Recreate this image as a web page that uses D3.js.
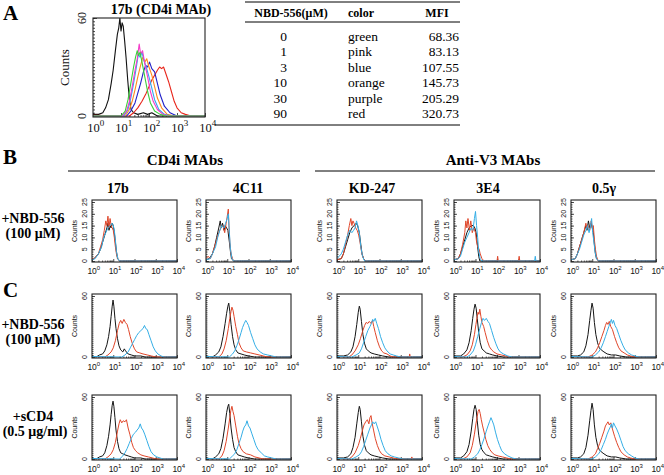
<!DOCTYPE html>
<html>
<head>
<meta charset="utf-8">
<script src="https://cdn.jsdelivr.net/npm/d3@7"></script>
<style>
  body { margin: 0; background: #fff; }
</style>
</head>
<body>
<div id="fig"></div>
<script>
// ---- data: histogram points are [log10 fluorescence, counts] ----

// panel A, 17b with increasing NBD-556
var aBlack = [[0,1],[0.2,1],[0.35,2],[0.45,5],[0.55,10],[0.65,20],[0.72,28],[0.8,40],[0.87,50],[0.92,54],[0.96,60],[1.0,52],[1.04,57],[1.08,55],[1.13,46],[1.18,36],[1.24,22],[1.3,10],[1.36,4],[1.45,2],[1.6,1],[1.8,2],[1.95,1],[2.1,2],[2.3,0],[4,0]];
var aGreen = [[0,0],[1.0,0],[1.15,3],[1.25,10],[1.35,20],[1.45,30],[1.52,36],[1.58,40],[1.63,37],[1.68,39],[1.75,33],[1.85,24],[1.95,15],[2.05,8],[2.2,3],[2.4,1],[2.6,0],[4,0]];
var aPink = [[0,0],[1.05,0],[1.2,3],[1.3,9],[1.4,18],[1.5,28],[1.58,35],[1.65,44],[1.7,38],[1.77,40],[1.85,32],[1.95,24],[2.05,15],[2.15,9],[2.3,4],[2.5,1],[2.7,0],[4,0]];
var aBlue = [[0,0],[1.1,0],[1.25,4],[1.35,11],[1.45,20],[1.55,30],[1.62,38],[1.68,36],[1.75,39],[1.82,34],[1.9,30],[2.0,24],[2.1,17],[2.2,10],[2.35,4],[2.55,1],[2.8,0],[4,0]];
var aOrange = [[0,0],[1.15,0],[1.3,4],[1.4,9],[1.5,16],[1.6,24],[1.7,31],[1.78,36],[1.85,33],[1.92,35],[2.0,30],[2.1,25],[2.2,18],[2.3,11],[2.45,5],[2.65,1],[2.9,0],[4,0]];
var aPurple = [[0,0],[1.2,0],[1.35,3],[1.5,8],[1.6,14],[1.7,20],[1.8,27],[1.88,31],[1.95,30],[2.02,33],[2.1,29],[2.2,27],[2.3,20],[2.4,13],[2.55,6],[2.75,2],[3.0,0],[4,0]];
var aRed = [[0,0.5],[1.3,0],[1.45,2],[1.6,5],[1.75,9],[1.9,14],[2.0,18],[2.1,22],[2.2,25],[2.3,28],[2.38,30],[2.45,29],[2.52,30],[2.6,26],[2.7,21],[2.8,15],[2.9,9],[3.0,5],[3.15,2],[3.3,1],[3.5,0],[4,0]];

// table of panel A
var tableConc = ["0", "1", "3", "10", "30", "90"];
var tableColor = ["green", "pink", "blue", "orange", "purple", "red"];
var tableMFI = ["68.36", "83.13", "107.55", "145.73", "205.29", "320.73"];

// panels B and C
var mabNames = ["17b", "4C11", "KD-247", "3E4", "0.5\u03b3"];

var bBlack = [
  [[0,0.5],[0.1,1],[0.2,2],[0.3,3],[0.4,5],[0.5,8],[0.6,11],[0.7,14],[0.75,16],[0.8,13],[0.85,15],[0.9,14],[0.95,16],[1.0,15],[1.05,12],[1.1,8],[1.15,4],[1.2,1],[1.3,0],[4,0]],
  [[0,0.5],[0.15,1],[0.3,3],[0.4,6],[0.5,10],[0.6,14],[0.67,17],[0.72,14],[0.78,16],[0.85,13],[0.9,15],[0.97,14],[1.03,13],[1.1,8],[1.15,4],[1.2,1],[1.3,0],[4,0]],
  [[0,0.5],[0.2,1],[0.3,3],[0.4,6],[0.5,9],[0.6,12],[0.7,14],[0.8,15],[0.9,16],[0.97,15],[1.05,12],[1.12,7],[1.18,3],[1.25,1],[1.35,0],[4,0]],
  [[0,0.5],[0.2,1],[0.3,3],[0.4,6],[0.5,9],[0.6,12],[0.7,14],[0.8,15],[0.9,15],[0.97,14],[1.03,12],[1.1,6],[1.15,2],[1.2,0],[4,0]],
  [[0,0.5],[0.2,1],[0.3,3],[0.4,6],[0.5,9],[0.6,12],[0.7,15],[0.75,13],[0.82,17],[0.88,14],[0.95,16],[1.0,14],[1.05,12],[1.1,7],[1.15,3],[1.2,1],[1.3,0],[4,0]]
];
var bRed = [
  [[0,1],[0.1,1],[0.2,2],[0.3,3],[0.4,6],[0.5,9],[0.58,13],[0.65,17],[0.7,15],[0.75,19],[0.8,14],[0.85,18],[0.9,15],[0.95,14],[1.0,13],[1.05,10],[1.1,6],[1.15,3],[1.22,1],[1.3,0],[4,0]],
  [[0,1],[0.1,2],[0.2,1],[0.3,3],[0.4,6],[0.5,9],[0.6,12],[0.7,14],[0.8,15],[0.88,12],[0.95,16],[1.0,19],[1.05,22],[1.08,15],[1.12,8],[1.18,3],[1.25,1],[1.3,0],[4,0]],
  [[0,0.5],[0.2,1],[0.3,3],[0.4,7],[0.5,11],[0.58,15],[0.65,18],[0.7,15],[0.75,17],[0.8,16],[0.88,14],[0.95,13],[1.02,11],[1.1,7],[1.17,3],[1.25,1],[1.35,0],[4,0]],
  [[0,0.5],[0.2,1],[0.3,3],[0.4,7],[0.5,12],[0.55,17],[0.6,14],[0.65,18],[0.72,13],[0.78,17],[0.85,12],[0.92,14],[1.0,12],[1.05,8],[1.1,6],[1.17,5],[1.22,3],[1.3,1],[1.4,0],[2.0,0],[2.03,2],[2.06,0],[3.0,0],[3.03,2],[3.06,0],[4,0]],
  [[0,0.5],[0.2,1],[0.3,3],[0.4,6],[0.5,9],[0.6,12],[0.7,16],[0.75,14],[0.8,15],[0.88,13],[0.95,17],[1.0,14],[1.05,15],[1.1,9],[1.15,5],[1.2,2],[1.28,0],[4,0]]
];
var bBlue = [
  [[0,0.5],[0.15,1],[0.3,3],[0.45,6],[0.55,10],[0.65,12],[0.75,14],[0.85,15],[0.95,16],[1.0,15],[1.05,13],[1.1,9],[1.15,4],[1.22,1],[1.3,0],[4,0]],
  [[0,0.5],[0.2,1],[0.3,3],[0.45,6],[0.55,10],[0.65,13],[0.75,15],[0.85,14],[0.92,16],[1.0,18],[1.05,20],[1.1,12],[1.15,5],[1.22,1],[1.3,0],[4,0]],
  [[0,1],[0.1,2],[0.2,3],[0.3,5],[0.4,8],[0.5,11],[0.6,13],[0.7,12],[0.78,13],[0.85,14],[0.92,17],[0.98,15],[1.05,12],[1.12,6],[1.2,2],[1.3,0],[4,0]],
  [[0,0.5],[0.2,1],[0.3,2],[0.4,5],[0.5,8],[0.6,10],[0.7,12],[0.8,14],[0.88,13],[0.95,18],[1.0,21],[1.05,15],[1.1,10],[1.15,4],[1.22,1],[1.3,0],[3.75,0],[3.78,2],[3.81,0],[4,0]],
  [[0,0.5],[0.2,1],[0.3,3],[0.4,5],[0.5,8],[0.6,11],[0.7,13],[0.78,15],[0.85,12],[0.9,14],[0.97,18],[1.02,12],[1.08,8],[1.13,4],[1.2,1],[1.3,0],[4,0]]
];

// C, +NBD-556 row
var c1Black = [
  [[0,1],[0.2,0],[0.35,2],[0.5,3],[0.6,6],[0.7,12],[0.78,20],[0.85,30],[0.9,40],[0.95,50],[0.99,56],[1.03,50],[1.08,38],[1.13,28],[1.2,18],[1.27,11],[1.35,7],[1.45,5],[1.52,8],[1.58,6],[1.7,3],[1.85,2],[2.0,1],[2.3,1],[2.5,0],[4,0]],
  [[0,1],[0.3,0],[0.45,2],[0.6,5],[0.7,10],[0.8,20],[0.9,33],[0.97,43],[1.03,50],[1.07,53],[1.12,45],[1.18,32],[1.25,20],[1.32,12],[1.4,7],[1.5,4],[1.65,3],[1.8,2],[2.0,1],[2.3,0],[4,0]],
  [[0,1],[0.3,1],[0.5,2],[0.65,5],[0.75,10],[0.85,20],[0.93,32],[1.0,44],[1.05,50],[1.09,47],[1.15,35],[1.22,22],[1.3,13],[1.38,8],[1.47,6],[1.6,4],[1.75,3],[1.95,2],[2.15,1],[2.45,0],[4,0]],
  [[0,1],[0.3,1],[0.45,3],[0.6,7],[0.7,14],[0.8,26],[0.87,38],[0.93,47],[0.98,52],[1.03,48],[1.08,38],[1.15,24],[1.22,14],[1.3,8],[1.4,6],[1.5,4],[1.65,3],[1.8,2],[2.0,1],[2.3,0],[4,0]],
  [[0,1],[0.3,1],[0.45,2],[0.6,5],[0.7,11],[0.8,22],[0.88,36],[0.94,46],[0.99,53],[1.04,48],[1.1,34],[1.17,22],[1.25,14],[1.33,9],[1.42,7],[1.55,5],[1.7,3],[1.9,2],[2.1,2],[2.3,1],[2.6,0],[4,0]]
];
var c1Red = [
  [[0,0.5],[0.6,0],[0.75,2],[0.9,5],[1.0,9],[1.1,16],[1.2,26],[1.28,33],[1.35,36],[1.42,33],[1.5,37],[1.57,34],[1.65,32],[1.72,27],[1.8,20],[1.9,13],[2.0,8],[2.1,5],[2.25,4],[2.4,3],[2.6,2],[2.8,1],[3.0,0],[4,0]],
  [[0,0.5],[0.6,0],[0.75,3],[0.85,8],[0.95,16],[1.05,28],[1.12,38],[1.18,45],[1.22,49],[1.27,46],[1.32,40],[1.4,30],[1.48,22],[1.55,14],[1.65,9],[1.75,6],[1.9,5],[2.1,4],[2.3,3],[2.5,2],[2.7,1],[2.9,0],[4,0]],
  [[0,0.5],[0.55,0],[0.7,2],[0.85,6],[1.0,12],[1.1,18],[1.2,25],[1.3,31],[1.37,34],[1.45,33],[1.52,35],[1.6,33],[1.67,36],[1.73,30],[1.8,24],[1.9,16],[2.0,10],[2.1,6],[2.2,4],[2.35,3],[2.5,1],[2.65,0],[3.4,0],[3.42,3],[3.45,0],[4,0]],
  [[0,0.5],[0.4,0],[0.6,2],[0.75,6],[0.85,12],[0.95,22],[1.02,32],[1.08,40],[1.12,44],[1.16,42],[1.2,47],[1.25,40],[1.3,34],[1.38,30],[1.45,24],[1.55,16],[1.65,10],[1.75,7],[1.85,5],[2.0,3],[2.2,2],[2.4,1],[2.6,0],[4,0]],
  [[0,0.5],[0.8,0],[1.0,2],[1.15,5],[1.25,9],[1.35,14],[1.45,20],[1.55,26],[1.62,31],[1.68,34],[1.74,32],[1.8,35],[1.87,30],[1.95,27],[2.05,20],[2.15,14],[2.25,9],[2.35,6],[2.5,4],[2.65,2],[2.8,1],[3.0,0],[4,0]]
];
var c1Blue = [
  [[0,0.5],[1.4,0],[1.55,2],[1.7,5],[1.8,9],[1.9,13],[2.0,17],[2.1,21],[2.2,24],[2.3,26],[2.4,28],[2.47,31],[2.53,28],[2.6,27],[2.68,22],[2.78,16],[2.88,10],[2.98,6],[3.1,3],[3.25,1],[3.4,0],[4,0]],
  [[0,0.5],[1.1,0],[1.25,3],[1.35,6],[1.45,11],[1.55,17],[1.65,24],[1.72,29],[1.8,33],[1.87,36],[1.93,34],[2.0,31],[2.1,24],[2.2,18],[2.3,12],[2.4,8],[2.55,5],[2.7,3],[2.9,2],[3.1,1],[3.3,0],[4,0]],
  [[0,0.5],[0.7,0],[0.9,2],[1.05,4],[1.15,8],[1.25,14],[1.35,20],[1.45,26],[1.55,30],[1.62,33],[1.68,37],[1.73,35],[1.8,38],[1.87,33],[1.95,28],[2.05,20],[2.15,14],[2.25,9],[2.35,6],[2.5,3],[2.65,2],[2.8,1],[3.0,0],[4,0]],
  [[0,0.5],[0.6,0],[0.75,2],[0.9,6],[1.0,12],[1.1,20],[1.2,28],[1.28,34],[1.35,38],[1.42,36],[1.5,38],[1.58,35],[1.65,33],[1.75,26],[1.85,19],[1.95,13],[2.05,8],[2.15,5],[2.3,3],[2.5,1],[2.7,0],[4,0]],
  [[0,0.5],[1.0,0],[1.15,2],[1.3,5],[1.42,9],[1.52,14],[1.62,20],[1.7,25],[1.78,30],[1.85,34],[1.9,37],[1.95,33],[2.0,36],[2.07,31],[2.15,28],[2.25,22],[2.35,16],[2.45,11],[2.55,7],[2.7,4],[2.85,2],[3.0,1],[3.2,0],[4,0]]
];

// C, +sCD4 row
var c2Black = [
  [[0,1],[0.2,0],[0.35,2],[0.5,3],[0.6,6],[0.7,13],[0.78,22],[0.85,33],[0.9,43],[0.95,52],[0.99,56],[1.03,51],[1.08,40],[1.13,28],[1.2,17],[1.27,10],[1.35,6],[1.45,5],[1.55,4],[1.7,3],[1.85,2],[2.0,1],[2.3,1],[2.5,0],[4,0]],
  [[0,1],[0.3,0],[0.45,2],[0.6,5],[0.7,10],[0.8,20],[0.9,34],[0.97,45],[1.03,51],[1.07,53],[1.12,44],[1.18,30],[1.25,19],[1.32,11],[1.4,7],[1.5,4],[1.65,3],[1.8,2],[2.0,1],[2.3,0],[4,0]],
  [[0,1],[0.3,1],[0.5,2],[0.65,5],[0.75,11],[0.85,21],[0.93,34],[1.0,45],[1.05,51],[1.09,48],[1.15,36],[1.22,22],[1.3,13],[1.38,8],[1.47,6],[1.6,4],[1.75,3],[1.95,2],[2.15,1],[2.45,0],[4,0]],
  [[0,1],[0.3,1],[0.45,3],[0.6,7],[0.7,14],[0.8,27],[0.87,39],[0.93,48],[0.98,52],[1.03,48],[1.08,37],[1.15,23],[1.22,14],[1.3,9],[1.4,6],[1.5,4],[1.65,3],[1.8,2],[2.0,1],[2.3,0],[4,0]],
  [[0,1],[0.3,1],[0.45,2],[0.6,5],[0.7,11],[0.8,23],[0.88,37],[0.94,47],[0.99,54],[1.04,48],[1.1,33],[1.17,21],[1.25,13],[1.33,9],[1.42,7],[1.55,5],[1.7,3],[1.9,2],[2.1,2],[2.3,1],[2.6,0],[4,0]]
];
var c2Red = [
  [[0,0.5],[0.6,0],[0.75,2],[0.9,5],[1.0,9],[1.1,16],[1.2,27],[1.27,34],[1.33,38],[1.4,35],[1.47,37],[1.55,36],[1.62,38],[1.7,30],[1.78,24],[1.87,16],[1.95,11],[2.05,8],[2.15,6],[2.3,4],[2.45,3],[2.65,2],[2.85,1],[3.0,0],[4,0]],
  [[0,0.5],[0.6,0],[0.75,3],[0.85,8],[0.95,17],[1.05,30],[1.12,40],[1.17,47],[1.22,51],[1.27,46],[1.32,42],[1.4,32],[1.48,22],[1.55,15],[1.65,10],[1.75,7],[1.9,5],[2.1,4],[2.3,2],[2.5,1],[2.7,0],[4,0]],
  [[0,0.5],[0.55,0],[0.7,2],[0.85,6],[1.0,13],[1.1,20],[1.2,28],[1.27,33],[1.35,36],[1.43,38],[1.5,34],[1.55,40],[1.6,42],[1.65,35],[1.72,28],[1.8,20],[1.9,13],[2.0,8],[2.1,5],[2.25,3],[2.45,2],[2.65,1],[2.85,0],[3.5,0],[3.52,2],[3.55,0],[4,0]],
  [[0,0.5],[0.4,0],[0.6,2],[0.75,6],[0.85,13],[0.95,24],[1.02,34],[1.08,41],[1.12,46],[1.17,48],[1.22,44],[1.27,38],[1.33,32],[1.4,26],[1.48,19],[1.57,13],[1.67,9],[1.78,6],[1.9,4],[2.05,3],[2.25,2],[2.45,1],[2.65,0],[4,0]],
  [[0,0.5],[0.8,0],[1.0,2],[1.15,5],[1.25,10],[1.35,15],[1.45,21],[1.55,27],[1.62,32],[1.68,34],[1.74,36],[1.8,33],[1.87,35],[1.95,29],[2.05,22],[2.15,16],[2.25,11],[2.35,7],[2.5,4],[2.65,2],[2.8,1],[3.0,0],[4,0]]
];
var c2Blue = [
  [[0,0.5],[1.3,0],[1.45,3],[1.55,6],[1.65,10],[1.75,15],[1.85,20],[1.95,24],[2.05,26],[2.12,28],[2.2,30],[2.27,34],[2.33,30],[2.4,28],[2.48,24],[2.58,18],[2.68,12],[2.78,7],[2.9,4],[3.05,2],[3.2,1],[3.35,0],[4,0]],
  [[0,0.5],[1.1,0],[1.25,3],[1.35,5],[1.45,9],[1.55,15],[1.65,21],[1.73,27],[1.8,31],[1.87,33],[1.93,37],[2.0,32],[2.07,30],[2.15,25],[2.25,19],[2.35,13],[2.45,9],[2.6,6],[2.75,3],[2.9,2],[3.1,1],[3.3,0],[4,0]],
  [[0,0.5],[0.7,0],[0.9,2],[1.05,4],[1.15,7],[1.25,12],[1.35,18],[1.45,24],[1.55,30],[1.62,33],[1.68,36],[1.75,34],[1.82,36],[1.9,31],[1.98,26],[2.07,19],[2.17,13],[2.27,8],[2.4,5],[2.55,3],[2.7,2],[2.9,1],[3.1,0],[4,0]],
  [[0,0.5],[0.8,0],[0.95,2],[1.1,5],[1.2,9],[1.3,14],[1.4,20],[1.5,27],[1.58,32],[1.65,36],[1.72,40],[1.78,37],[1.85,33],[1.93,26],[2.02,19],[2.12,13],[2.22,8],[2.35,5],[2.5,3],[2.7,1],[2.9,0],[4,0]],
  [[0,0.5],[1.0,0],[1.15,2],[1.3,5],[1.42,9],[1.52,14],[1.62,19],[1.7,24],[1.78,28],[1.85,31],[1.9,34],[1.95,30],[2.0,35],[2.07,32],[2.15,29],[2.25,24],[2.35,18],[2.45,12],[2.55,8],[2.7,5],[2.85,3],[3.0,1],[3.2,0],[4,0]]
];

(function() {

    var width = 664;
    var height = 475;
    var serif = "'Liberation Serif', 'Times New Roman', serif";
    var sans = "'Liberation Sans', Arial, sans-serif";

    var svg = d3.select("#fig")
        .append("svg")
        .attr("width", width)
        .attr("height", height);

    // frame columns for panels B and C, and titles above them
    var colX = [[92, 177], [206, 291], [337, 422], [454, 540], [571, 656]];
    var titleX = [118, 248, 372, 488, 604];

    var clipId = 0;

    // one flow histogram box
    function drawHist(o) {
        var x = d3.scaleLog().domain([1, 1e4]).range([o.x0, o.x1]);
        var y = d3.scaleLinear().domain([0, o.yMax]).range([o.y1 - 1, o.yTop]);
        var g = svg.append("g");

        // inward ticks on x axis: decades and minor
        var minor = [];
        for (var d = 1; d < 1e4; d *= 10)
            for (var m = 2; m < 10; m++) minor.push(d * m);
        g.append("g")
            .attr("transform", "translate(0," + o.y1 + ")")
            .call(d3.axisBottom(x).tickValues(minor).tickSizeInner(-o.minorLen).tickSizeOuter(0).tickFormat(""))
            .call(s => s.select(".domain").remove());
        g.append("g")
            .attr("transform", "translate(0," + o.y1 + ")")
            .call(d3.axisBottom(x).tickValues([1, 10, 100, 1000, 10000]).tickSizeInner(-o.majorLen).tickSizeOuter(0).tickFormat(""))
            .call(s => s.select(".domain").remove());

        // inward ticks on y axis
        g.append("g")
            .attr("transform", "translate(" + o.x0 + ",0)")
            .call(d3.axisLeft(y).tickValues(d3.range(0, o.yMax + 0.01, o.yMinor)).tickSizeInner(-o.minorLen).tickSizeOuter(0).tickFormat(""))
            .call(s => s.select(".domain").remove());
        g.append("g")
            .attr("transform", "translate(" + o.x0 + ",0)")
            .call(d3.axisLeft(y).tickValues(o.yTicks).tickSizeInner(-o.majorLen).tickSizeOuter(0).tickFormat(""))
            .call(s => s.select(".domain").remove());
        g.selectAll(".tick line").attr("stroke", "#222").attr("stroke-width", 0.8);

        // curves
        clipId++;
        svg.append("clipPath").attr("id", "clip" + clipId)
            .append("rect")
            .attr("x", o.x0).attr("y", o.y0)
            .attr("width", o.x1 - o.x0).attr("height", o.y1 - o.y0);
        var line = d3.line()
            .x(p => x(Math.pow(10, p[0])))
            .y(p => y(p[1]));
        g.append("g")
            .attr("clip-path", "url(#clip" + clipId + ")")
            .selectAll("path")
            .data(o.curves)
            .enter().append("path")
            .attr("d", c => line(c.pts))
            .attr("fill", "none")
            .attr("stroke", c => c.color)
            .attr("stroke-width", o.lineW)
            .attr("stroke-linejoin", "round");

        // frame
        g.append("rect")
            .attr("x", o.x0).attr("y", o.y0)
            .attr("width", o.x1 - o.x0).attr("height", o.y1 - o.y0)
            .attr("fill", "none")
            .attr("stroke", "#222")
            .attr("stroke-width", 1.1);

        // x tick labels, 10 with exponent
        var xl = g.selectAll(".xl")
            .data([0, 1, 2, 3, 4])
            .enter().append("text")
            .attr("x", k => x(Math.pow(10, k)) + o.expFont * 0.3)
            .attr("y", o.y1 + o.xLabDy)
            .attr("text-anchor", "middle")
            .attr("font-family", o.font)
            .attr("font-size", o.labFont)
            .attr("fill", "#111");
        xl.append("tspan").text("10");
        xl.append("tspan")
            .attr("dy", -o.labFont * 0.45)
            .attr("font-size", o.expFont)
            .text(k => k);

        // y tick labels, rotated
        g.selectAll(".yl")
            .data(o.yTicks)
            .enter().append("text")
            .attr("transform", v => "translate(" + (o.x0 - o.yLabDx) + "," + y(v) + ") rotate(-90)")
            .attr("text-anchor", "middle")
            .attr("font-family", o.font)
            .attr("font-size", o.yLabFont)
            .attr("fill", "#111")
            .text(v => v);

        g.append("text")
            .attr("transform", "translate(" + (o.x0 - o.countsDx) + "," + ((o.y0 + o.y1) / 2) + ") rotate(-90)")
            .attr("text-anchor", "middle")
            .attr("font-family", o.font)
            .attr("font-size", o.countsFont)
            .attr("fill", "#111")
            .text("Counts");
    }

    function label(txt, x, y, size, anchor, weight) {
        svg.append("text")
            .attr("x", x).attr("y", y)
            .attr("text-anchor", anchor || "middle")
            .attr("font-family", serif)
            .attr("font-weight", weight || "bold")
            .attr("font-size", size)
            .attr("fill", "#000")
            .text(txt);
    }

    // ---------- panel A ----------
    label("A", 3, 20, 21, "start");
    label("17b (CD4i MAb)", 161, 14, 14);
    drawHist({
        x0: 93, x1: 205, y0: 18, y1: 117, yTop: 18, yMax: 60,
        yTicks: [0, 60], yMinor: 2, majorLen: 4, minorLen: 2,
        curves: [
            { pts: aBlack, color: "#111" },
            { pts: aRed, color: "#e8261c" },
            { pts: aPurple, color: "#2020c8" },
            { pts: aOrange, color: "#ff8a1c" },
            { pts: aBlue, color: "#2ea8f0" },
            { pts: aPink, color: "#f43cc8" },
            { pts: aGreen, color: "#3ccc3c" }
        ],
        lineW: 1.1, font: serif, labFont: 12.5, expFont: 9, xLabDy: 15,
        yLabFont: 12, yLabDx: 7, countsFont: 13, countsDx: 24
    });

    // table
    var tx0 = 245, tx1 = 460;
    [[2, tx0], [22, tx0], [125, 215]].forEach(function(l) {
        svg.append("line")
            .attr("x1", l[1]).attr("x2", tx1)
            .attr("y1", l[0]).attr("y2", l[0])
            .attr("stroke", "#000").attr("stroke-width", 1);
    });
    label("NBD-556(\u03bcM)", 291, 17, 12);
    label("color", 348, 17, 12, "start");
    label("MFI", 437, 17, 12);
    var rowY = d3.scaleLinear().domain([0, 5]).range([41, 118]);
    tableConc.forEach(function(c, i) {
        label(c, 287, rowY(i), 13.5, "end", "normal");
        label(tableColor[i], 348, rowY(i), 13.5, "start", "normal");
        label(tableMFI[i], 459, rowY(i), 13.5, "end", "normal");
    });

    // ---------- panel B ----------
    label("B", 3, 164, 21, "start");
    label("CD4i MAbs", 185, 165, 15);
    label("Anti-V3 MAbs", 493, 165, 15);
    [[68, 300], [315, 655]].forEach(function(l) {
        svg.append("line")
            .attr("x1", l[0]).attr("x2", l[1])
            .attr("y1", 171).attr("y2", 171)
            .attr("stroke", "#000").attr("stroke-width", 1);
    });
    mabNames.forEach(function(n, i) {
        label(n, titleX[i], 193, 14);
    });
    label("+NBD-556", 33, 223, 14);
    label("(100 \u03bcM)", 33, 238, 14);

    var smallStyle = {
        lineW: 1, font: sans, labFont: 8.5, expFont: 6, xLabDy: 12,
        yLabFont: 7, yLabDx: 5, countsFont: 7, countsDx: 15,
        majorLen: 3, minorLen: 1.5
    };

    function row(y0, y1, yMax, yTicks, yMinor, blacks, reds, blues) {
        colX.forEach(function(cx, i) {
            drawHist(Object.assign({
                x0: cx[0], x1: cx[1], y0: y0, y1: y1, yTop: y0 + 2, yMax: yMax,
                yTicks: yTicks, yMinor: yMinor,
                curves: [
                    { pts: blacks[i], color: "#151515" },
                    { pts: reds[i], color: "#e0462a" },
                    { pts: blues[i], color: "#34aee6" }
                ]
            }, smallStyle));
        });
    }

    row(200, 262, 25, [0, 5, 10, 15, 20, 25], 1, bBlack, bRed, bBlue);

    // ---------- panel C ----------
    label("C", 3, 297, 21, "start");
    label("+NBD-556", 33, 329, 14);
    label("(100 \u03bcM)", 33, 344, 14);
    row(294, 358, 60, [0, 60], 2, c1Black, c1Red, c1Blue);

    label("+sCD4", 33, 421, 14);
    label("(0.5 \u03bcg/ml)", 35, 436, 14);
    row(395, 460, 60, [0, 60], 2, c2Black, c2Red, c2Blue);

})();
</script>
</body>
</html>
